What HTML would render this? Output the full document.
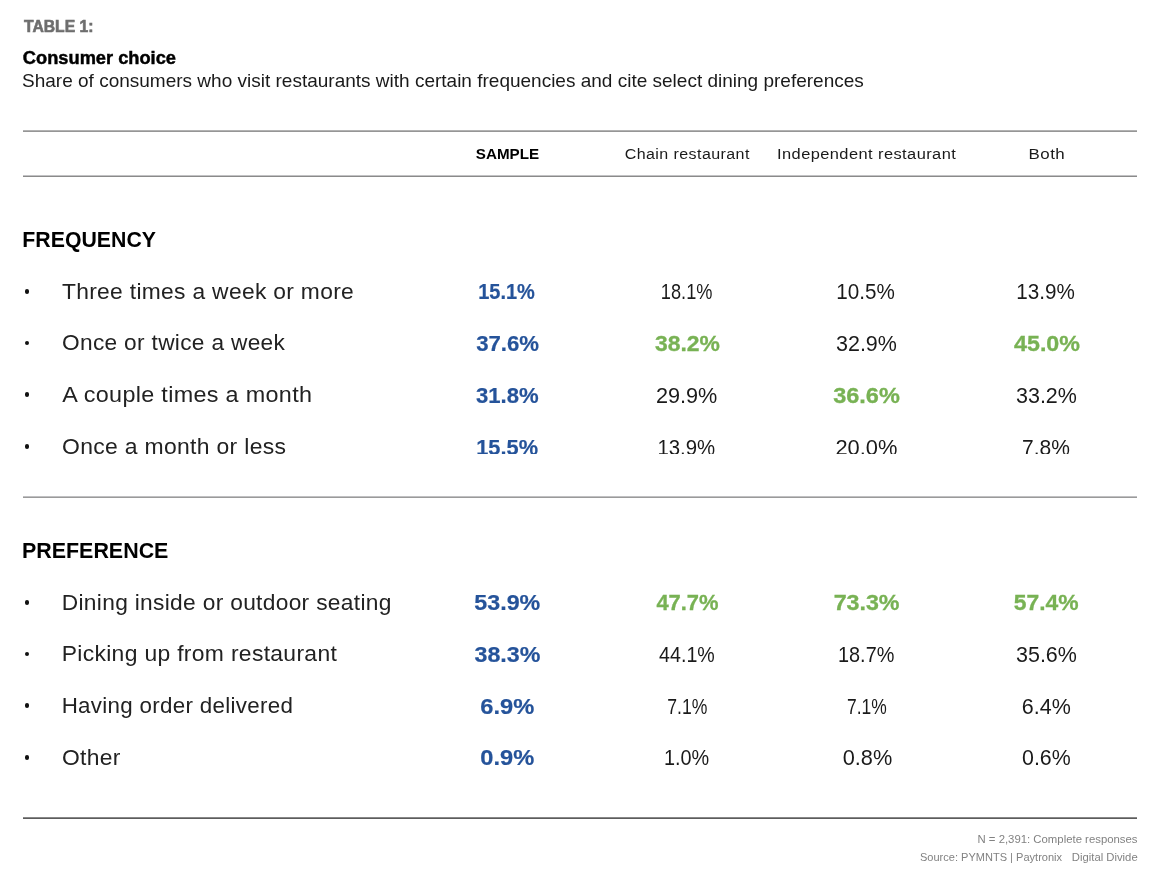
<!DOCTYPE html>
<html lang="en">
<head>
<meta charset="utf-8">
<title>Table 1: Consumer choice</title>
<style>
  html, body { margin:0; padding:0; background:#fff; }
  body { width:1156px; height:888px; position:relative; overflow:hidden;
         font-family:"Liberation Sans", sans-serif; color:#1a1a1a; }
  .t { position:absolute; white-space:nowrap; line-height:1; }
  .s { display:inline-block; transform-origin:0 50%; }
  .rule { position:absolute; left:23px; width:1114px; height:1px; background:#8c8c8c; }
  .dot { position:absolute; left:24.9px; width:4.5px; height:4.5px; border-radius:50%; background:#111; }
  .clip { position:absolute; left:0; top:0; width:1156px; height:454px; overflow:hidden; }
</style>
</head>
<body>
<div class="rule" style="top:130px; background:#b2b2b2;"></div><div class="rule" style="top:131px; background:#969696;"></div>
<div class="rule" style="top:175px; background:#c2c2c4;"></div><div class="rule" style="top:176px; background:#8a8a8a;"></div>
<div class="rule" style="top:496px; background:#c0c0c2;"></div><div class="rule" style="top:497px; background:#9a9a9a;"></div>
<div class="rule" style="top:817px; background:#888888;"></div><div class="rule" style="top:818px; background:#5c5c5c;"></div>
<div class="t" style="left:24px;top:19px;font-size:16px;color:#6e6e6e;font-weight:bold;-webkit-text-stroke:0.6px #6e6e6e;"><span class="s" style="transform:translateX(0.02px) scaleX(0.9808)">TABLE 1:</span></div>
<div class="t" style="left:22px;top:49px;font-size:18.2px;color:#000;font-weight:bold;-webkit-text-stroke:0.45px #000;"><span class="s" style="transform:translateX(0.86px) scaleX(1.0033)">Consumer choice</span></div>
<div class="t" style="left:22px;top:72px;font-size:18.2px;color:#1a1a1a;"><span class="s" style="transform:translateX(0.06px) scaleX(1.0447)">Share of consumers who visit restaurants with certain frequencies and cite select dining preferences</span></div>
<div class="t" style="left:475px;top:146px;font-size:15.3px;color:#000;font-weight:bold;"><span class="s" style="transform:translateX(0.83px) scaleX(0.9921)">SAMPLE</span></div>
<div class="t" style="left:624px;top:146px;font-size:15.3px;color:#1a1a1a;letter-spacing:0.4px;"><span class="s" style="transform:translateX(0.74px) scaleX(1.0464)">Chain restaurant</span></div>
<div class="t" style="left:777px;top:146px;font-size:15.3px;color:#1a1a1a;letter-spacing:0.4px;"><span class="s" style="transform:translateX(0.05px) scaleX(1.0728)">Independent restaurant</span></div>
<div class="t" style="left:1028px;top:146px;font-size:15.3px;color:#1a1a1a;letter-spacing:0.4px;"><span class="s" style="transform:translateX(0.62px) scaleX(1.1051)">Both</span></div>
<div class="t" style="left:22px;top:230px;font-size:21.4px;color:#000;font-weight:bold;"><span class="s" style="transform:translateX(0.30px) scaleX(0.9952)">FREQUENCY</span></div>
<div class="t" style="left:21px;top:541px;font-size:21.4px;color:#000;font-weight:bold;"><span class="s" style="transform:translateX(0.95px) scaleX(1.0017)">PREFERENCE</span></div>
<div class="t" style="left:61px;top:282px;font-size:21.5px;color:#222;letter-spacing:0.3px;"><span class="s" style="transform:translateX(0.94px) scaleX(1.0605)">Three times a week or more</span></div>
<div class="dot" style="top:289.15px"></div>
<div class="t" style="left:478px;top:282px;font-size:21.4px;color:#25539a;font-weight:bold;-webkit-text-stroke:0.2px #25539a;"><span class="s" style="transform:translateX(0.19px) scaleX(0.9347)">15.1%</span></div>
<div class="t" style="left:660px;top:282px;font-size:21.5px;color:#1a1a1a;"><span class="s" style="transform:translateX(0.87px) scaleX(0.8458)">18.1%</span></div>
<div class="t" style="left:836px;top:282px;font-size:21.5px;color:#1a1a1a;"><span class="s" style="transform:translateX(0.35px) scaleX(0.9595)">10.5%</span></div>
<div class="t" style="left:1016px;top:282px;font-size:21.5px;color:#1a1a1a;"><span class="s" style="transform:translateX(0.35px) scaleX(0.9595)">13.9%</span></div>
<div class="t" style="left:61px;top:333px;font-size:21.5px;color:#222;letter-spacing:0.3px;"><span class="s" style="transform:translateX(0.99px) scaleX(1.0551)">Once or twice a week</span></div>
<div class="dot" style="top:340.85px"></div>
<div class="t" style="left:476px;top:334px;font-size:21.4px;color:#25539a;font-weight:bold;-webkit-text-stroke:0.2px #25539a;"><span class="s" style="transform:translateX(0.15px) scaleX(1.0367)">37.6%</span></div>
<div class="t" style="left:654px;top:333px;font-size:21.2px;color:#78b254;font-weight:bold;-webkit-text-stroke:0.3px #78b254;"><span class="s" style="transform:translateX(0.94px) scaleX(1.0796)">38.2%</span></div>
<div class="t" style="left:836px;top:334px;font-size:21.5px;color:#1a1a1a;"><span class="s" style="transform:translateX(0.02px) scaleX(0.9987)">32.9%</span></div>
<div class="t" style="left:1014px;top:333px;font-size:21.2px;color:#78b254;font-weight:bold;-webkit-text-stroke:0.3px #78b254;"><span class="s" style="transform:translateX(0.03px) scaleX(1.0975)">45.0%</span></div>
<div class="t" style="left:62px;top:385px;font-size:21.5px;color:#222;letter-spacing:0.3px;"><span class="s" style="transform:translateX(0.31px) scaleX(1.0866)">A couple times a month</span></div>
<div class="dot" style="top:392.35px"></div>
<div class="t" style="left:475px;top:386px;font-size:21.4px;color:#25539a;font-weight:bold;-webkit-text-stroke:0.2px #25539a;"><span class="s" style="transform:translateX(0.91px) scaleX(1.0335)">31.8%</span></div>
<div class="t" style="left:655px;top:386px;font-size:21.5px;color:#1a1a1a;"><span class="s" style="transform:translateX(0.95px) scaleX(1.0073)">29.9%</span></div>
<div class="t" style="left:833px;top:385px;font-size:21.2px;color:#78b254;font-weight:bold;-webkit-text-stroke:0.3px #78b254;"><span class="s" style="transform:translateX(0.19px) scaleX(1.1096)">36.6%</span></div>
<div class="t" style="left:1016px;top:386px;font-size:21.5px;color:#1a1a1a;"><span class="s" style="transform:translateX(0.02px) scaleX(0.9987)">33.2%</span></div>
<div class="t" style="left:61px;top:437px;font-size:21.5px;color:#222;letter-spacing:0.3px;"><span class="s" style="transform:translateX(0.99px) scaleX(1.0664)">Once a month or less</span></div>
<div class="dot" style="top:444.35px"></div>
<div class="clip">
<div class="t" style="left:476px;top:438px;font-size:21.4px;color:#25539a;font-weight:bold;-webkit-text-stroke:0.2px #25539a;"><span class="s" style="transform:translateX(0.25px) scaleX(1.0180)">15.5%</span></div>
<div class="t" style="left:657px;top:438px;font-size:21.5px;color:#1a1a1a;"><span class="s" style="transform:translateX(0.38px) scaleX(0.9470)">13.9%</span></div>
<div class="t" style="left:835px;top:438px;font-size:21.5px;color:#1a1a1a;"><span class="s" style="transform:translateX(0.40px) scaleX(1.0180)">20.0%</span></div>
<div class="t" style="left:1021px;top:438px;font-size:21.5px;color:#1a1a1a;"><span class="s" style="transform:translateX(1.00px) scaleX(0.9773)">7.8%</span></div>
</div>
<div class="t" style="left:61px;top:593px;font-size:21.5px;color:#222;letter-spacing:0.3px;"><span class="s" style="transform:translateX(0.73px) scaleX(1.0576)">Dining inside or outdoor seating</span></div>
<div class="dot" style="top:600.25px"></div>
<div class="t" style="left:474px;top:593px;font-size:21.4px;color:#25539a;font-weight:bold;-webkit-text-stroke:0.2px #25539a;"><span class="s" style="transform:translateX(0.31px) scaleX(1.0868)">53.9%</span></div>
<div class="t" style="left:656px;top:592px;font-size:21.2px;color:#78b254;font-weight:bold;-webkit-text-stroke:0.3px #78b254;"><span class="s" style="transform:translateX(0.38px) scaleX(1.0342)">47.7%</span></div>
<div class="t" style="left:833px;top:592px;font-size:21.2px;color:#78b254;font-weight:bold;-webkit-text-stroke:0.3px #78b254;"><span class="s" style="transform:translateX(0.63px) scaleX(1.0965)">73.3%</span></div>
<div class="t" style="left:1013px;top:592px;font-size:21.2px;color:#78b254;font-weight:bold;-webkit-text-stroke:0.3px #78b254;"><span class="s" style="transform:translateX(0.76px) scaleX(1.0794)">57.4%</span></div>
<div class="t" style="left:61px;top:644px;font-size:21.5px;color:#222;letter-spacing:0.3px;"><span class="s" style="transform:translateX(0.70px) scaleX(1.0645)">Picking up from restaurant</span></div>
<div class="dot" style="top:651.55px"></div>
<div class="t" style="left:474px;top:645px;font-size:21.4px;color:#25539a;font-weight:bold;-webkit-text-stroke:0.2px #25539a;"><span class="s" style="transform:translateX(0.49px) scaleX(1.0861)">38.3%</span></div>
<div class="t" style="left:659px;top:645px;font-size:21.5px;color:#1a1a1a;"><span class="s" style="transform:translateX(0.08px) scaleX(0.9133)">44.1%</span></div>
<div class="t" style="left:838px;top:645px;font-size:21.5px;color:#1a1a1a;"><span class="s" style="transform:translateX(0.03px) scaleX(0.9235)">18.7%</span></div>
<div class="t" style="left:1016px;top:645px;font-size:21.5px;color:#1a1a1a;"><span class="s" style="transform:translateX(0.02px) scaleX(0.9987)">35.6%</span></div>
<div class="t" style="left:61px;top:696px;font-size:21.5px;color:#222;letter-spacing:0.3px;"><span class="s" style="transform:translateX(0.68px) scaleX(1.0390)">Having order delivered</span></div>
<div class="dot" style="top:703.25px"></div>
<div class="t" style="left:480px;top:697px;font-size:21.4px;color:#25539a;font-weight:bold;-webkit-text-stroke:0.2px #25539a;"><span class="s" style="transform:translateX(0.33px) scaleX(1.1064)">6.9%</span></div>
<div class="t" style="left:667px;top:697px;font-size:21.5px;color:#1a1a1a;"><span class="s" style="transform:translateX(0.22px) scaleX(0.8179)">7.1%</span></div>
<div class="t" style="left:846px;top:697px;font-size:21.5px;color:#1a1a1a;"><span class="s" style="transform:translateX(0.97px) scaleX(0.8116)">7.1%</span></div>
<div class="t" style="left:1021px;top:697px;font-size:21.5px;color:#1a1a1a;"><span class="s" style="transform:translateX(0.81px) scaleX(0.9995)">6.4%</span></div>
<div class="t" style="left:61px;top:748px;font-size:21.5px;color:#222;letter-spacing:0.3px;"><span class="s" style="transform:translateX(0.98px) scaleX(1.0630)">Other</span></div>
<div class="dot" style="top:755.15px"></div>
<div class="t" style="left:480px;top:748px;font-size:21.4px;color:#25539a;font-weight:bold;-webkit-text-stroke:0.2px #25539a;"><span class="s" style="transform:translateX(0.32px) scaleX(1.1050)">0.9%</span></div>
<div class="t" style="left:663px;top:748px;font-size:21.5px;color:#1a1a1a;"><span class="s" style="transform:translateX(1.00px) scaleX(0.9225)">1.0%</span></div>
<div class="t" style="left:842px;top:748px;font-size:21.5px;color:#1a1a1a;"><span class="s" style="transform:translateX(0.71px) scaleX(1.0107)">0.8%</span></div>
<div class="t" style="left:1022px;top:748px;font-size:21.5px;color:#1a1a1a;"><span class="s" style="transform:translateX(0.06px) scaleX(0.9934)">0.6%</span></div>
<div class="t" style="left:977px;top:834px;font-size:11.3px;color:#828282;"><span class="s" style="transform:translateX(0.49px) scaleX(1.0051)">N = 2,391: Complete responses</span></div>
<div class="t" style="left:919px;top:852px;font-size:11.3px;color:#828282;"><span class="s" style="transform:translateX(0.99px) scaleX(0.9767)">Source: PYMNTS | Paytronix</span></div>
<div class="t" style="left:1071px;top:852px;font-size:11.3px;color:#828282;"><span class="s" style="transform:translateX(0.82px) scaleX(0.9986)">Digital Divide</span></div>
</body>
</html>
